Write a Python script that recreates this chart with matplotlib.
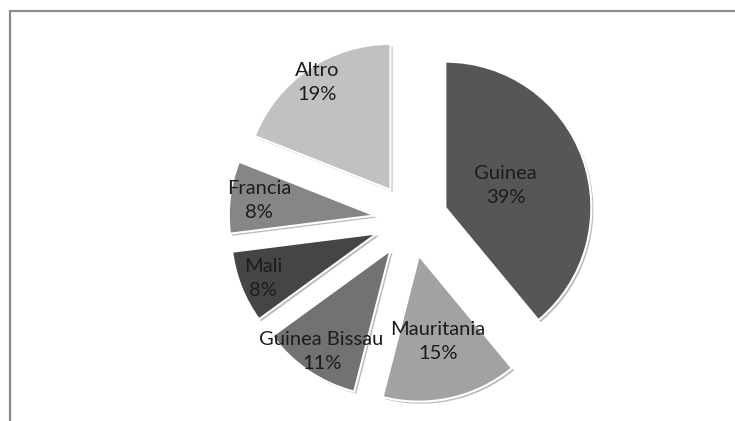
import numpy as np
import matplotlib
matplotlib.use("Agg")
import matplotlib.pyplot as plt
import matplotlib.patheffects as pe

plt.rcParams['font.family'] = ['Lato', 'DejaVu Sans']

# data
countries = ["Guinea", "Mauritania", "Guinea Bissau", "Mali", "Francia", "Altro"]
shares = [39, 15, 11, 8, 8, 19]
colors = ["#565656", "#a2a2a2", "#727272", "#454545", "#868686", "#c1c1c1"]
label_r = [0.44, 0.6, 0.84, 0.84, 0.8, 0.89]   # where each label sits along its wedge

W, H = 735, 421
fig = plt.figure(figsize=(W / 100, H / 100), dpi=100)
ax = fig.add_axes([0, 0, 1, 1])

cx, cy, r = 411, H - 220, 146
# explode is in data units here, so scale it by the radius
wedges, _ = ax.pie(shares, colors=colors, startangle=90, counterclock=False,
                   explode=[0.25 * r] * len(shares), center=(cx, cy), radius=r,
                   wedgeprops=dict(edgecolor="white", linewidth=1.5))
for w in wedges:
    w.set_path_effects([pe.SimplePatchShadow(offset=(1.5, -1.5), shadow_rgbFace="#777777", alpha=0.5),
                        pe.Normal()])

# labels inside the wedges
for w, name, val, lr in zip(wedges, countries, shares, label_r):
    ang = np.deg2rad((w.theta1 + w.theta2) / 2)
    x0, y0 = w.center
    ax.text(x0 + lr * r * np.cos(ang), y0 + lr * r * np.sin(ang), f"{name}\n{val}%",
            ha="center", va="center", fontsize=14.5, color="#1c1c1c", linespacing=1.5)

# outer chart border (runs off the right and bottom)
ax.plot([10, 10, W + 5], [-5, H - 11, H - 11], color="#8a8a8a", lw=1.6, solid_joinstyle="miter")

ax.set_xlim(0, W)
ax.set_ylim(0, H)
ax.set_aspect("equal")
ax.axis("off")

fig.savefig("out.png", dpi=100, facecolor="white")
